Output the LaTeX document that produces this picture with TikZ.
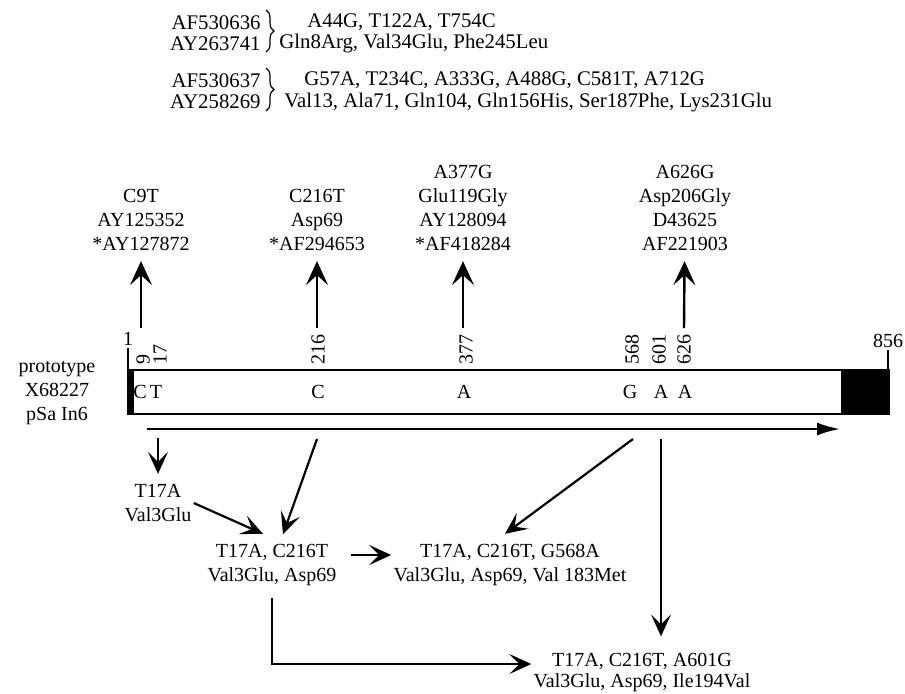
\documentclass[tikz,border=0pt]{standalone}
\usepackage{fontspec}
\setmainfont{Liberation Serif}
\usetikzlibrary{arrows.meta, decorations.pathreplacing}

\begin{document}
\begin{tikzpicture}[x=0.5pt, y=-0.5pt,
    every node/.style={font=\fontsize{10}{12}\selectfont, inner sep=1pt},
    t/.style={align=center},
    topl/.style={anchor=west, font=\fontsize{10.4}{12}\selectfont},
    poslbl/.style={rotate=90, anchor=west, inner sep=0pt},
    up/.style={line width=1.2pt, -{Stealth[length=12pt, width=11pt, inset=5pt]}},
    dn/.style={line width=1.1pt, -{Stealth[length=11pt, width=10pt, inset=5pt]}},
    orf/.style={line width=1.2pt, -{Latex[length=11.5pt, width=6.5pt]}},
    brc/.style={decorate, decoration={brace, amplitude=4pt}, line width=0.6pt}]
    \useasboundingbox (0,0) rectangle (905,693);

    % other lineages
    \node[align=right, anchor=east, font=\fontsize{10.4}{10.5}\selectfont] (acc1) at (263,33) {AF530636\\AY263741};
    \draw[brc] (266,10) -- (266,52);
    \node[topl] (aa1) at (305,22) {A44G, T122A, T754C};
    \node[topl] (aa2) at (277,44) {Gln8Arg, Val34Glu, Phe245Leu};

    \node[align=right, anchor=east, font=\fontsize{10.4}{10.5}\selectfont] (acc2) at (263,91) {AF530637\\AY258269};
    \draw[brc] (266,68) -- (266,111);
    \node[topl] (bb1) at (302,80) {G57A, T234C, A333G, A488G, C581T, A712G};
    \node[topl] (bb2) at (282,103) {Val13, Ala71, Gln104, Gln156His, Ser187Phe, Lys231Glu};

    % single substitutions
    \node[t] (c9t) at (141,220) {C9T\\AY125352\\*AY127872};
    \node[t] (c216t) at (317,220) {C216T\\Asp69\\*AF294653};
    \node[t] (a377g) at (463,208) {A377G\\Glu119Gly\\AY128094\\*AF418284};
    \node[t] (a626g) at (685,208) {A626G\\Asp206Gly\\D43625\\AF221903};

    \coordinate (u9) at (141,328);
    \coordinate (u216) at (317,328);
    \coordinate (u377) at (463,328);
    \coordinate (u626) at (684,328);
    \draw[up, shorten >=4pt] (u9) -- (c9t);
    \draw[up, shorten >=4pt] (u216) -- (c216t);
    \draw[up, shorten >=4pt] (u377) -- (a377g);
    \draw[up, shorten >=4pt] (u626) -- (a626g);

    % prototype gene
    \node[t] (proto) at (57,393) {prototype\\X68227\\pSa In6};
    \draw[line width=1pt] (128,370) rectangle (889,414);
    \fill (128,370) rectangle (134,414);
    \fill (841,370) rectangle (889,414);

    \node (n1) at (128,339) {1};
    \node (n856) at (888,341) {856};
    \coordinate (bL) at (128,370);
    \coordinate (bR) at (888,370);
    \draw[line width=0.6pt] (n1.south) -- (bL);
    \draw[line width=0.6pt] (n856.south) -- (bR);
    \node[poslbl] (n9) at (143,365) {9};
    \node[poslbl] (n17) at (160,365) {17};
    \node[poslbl] (n216) at (318,365) {216};
    \node[poslbl] (n377) at (466,365) {377};
    \node[poslbl] (n568) at (632,365) {568};
    \node[poslbl] (n601) at (659,365) {601};
    \node[poslbl] (n626) at (684,365) {626};

    \node (l9) at (140,392) {C};
    \node (l17) at (156,392) {T};
    \node (l216) at (318,392) {C};
    \node (l377) at (464,392) {A};
    \node (l568) at (630,392) {G};
    \node (l601) at (661,392) {A};
    \node (l626) at (685,392) {A};

    \coordinate (os) at (147,429);
    \coordinate (oe) at (840,429);
    \draw[orf] (os) -- (oe);

    % derived variants
    \node[t] (v3) at (158,503) {T17A\\Val3Glu};
    \node[t] (v3a69) at (272,565) {T17A, C216T\\Val3Glu, Asp69};
    \node[t] (m183) at (510,565) {T17A, C216T, G568A\\Val3Glu, Asp69, Val 183Met};
    \node[t, font=\fontsize{10}{10.5}\selectfont] (i194) at (642,672) {T17A, C216T, A601G\\Val3Glu, Asp69, Ile194Val};

    \coordinate (d17) at (158,438);
    \coordinate (d216) at (317,439);
    \coordinate (d568) at (633,439);
    \coordinate (d601) at (661,439);
    \draw[dn, shorten >=4pt] (d17) -- (v3);
    \draw[dn, shorten >=4pt] (d216) -- (v3a69);
    \draw[dn] (v3.east) -- ([shift={(-9,-8)}]v3a69.north);
    \draw[dn, shorten <=6pt] ([yshift=5pt]v3a69.east) -- ([yshift=5pt]m183.west);
    \draw[dn] (d568) -- ([shift={(-5,-8)}]m183.north);
    \draw[dn, shorten >=7pt] (d601) -- (d601 |- i194.north);
    \draw[dn] ([yshift=-5pt]v3a69.south) |- ([yshift=4pt]i194.west);
\end{tikzpicture}
\end{document}
